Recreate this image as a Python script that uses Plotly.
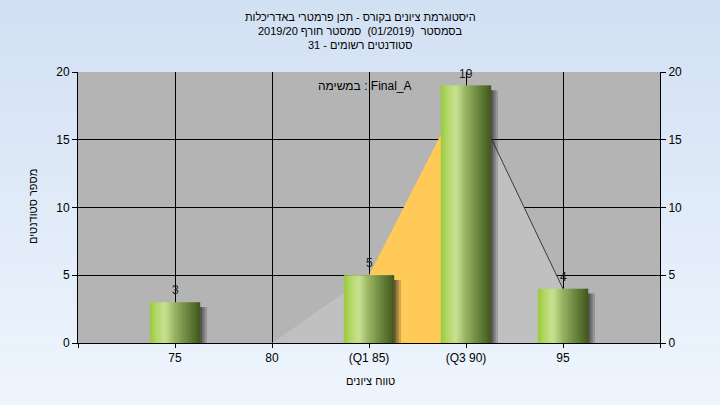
import plotly.graph_objects as go

# ---- data ----
categories = ["75", "80", "(Q1 85)", "(Q3 90)", "95"]
counts = [3, 0, 5, 19, 4]
curve_values = [0, 0, 5, 19, 4]
y_ticks = [0, 5, 10, 15, 20]

title_lines = [
    "היסטוגרמת ציונים בקורס - תכן פרמטרי באדריכלות",
    "בסמסטר  (01/2019)  סמסטר חורף 2019/20",
    "סטודנטים רשומים - 31",
]
x_title = "טווח ציונים"
y_title = "מספר סטודנטים"
note = "במשימה : Final_A"

FONT = "Liberation Sans"
FS = 11
pos = list(range(len(categories)))

fig = go.Figure()

# ---- background area curve (base subplot) ----
fig.add_trace(go.Scatter(x=pos[0:3], y=curve_values[0:3], mode="lines",
                         fill="tozeroy", fillcolor="#c0c0c0",
                         line=dict(width=0, color="#c0c0c0"), hoverinfo="skip",
                         showlegend=False))
fig.add_trace(go.Scatter(x=pos[2:4], y=curve_values[2:4], mode="lines",
                         fill="tozeroy", fillcolor="#ffca58",
                         line=dict(width=0, color="#ffca58"), hoverinfo="skip",
                         showlegend=False))
fig.add_trace(go.Scatter(x=pos[3:5], y=curve_values[3:5], mode="lines",
                         fill="tozeroy", fillcolor="#c0c0c0",
                         line=dict(width=1, color="#3a3a3a"), hoverinfo="skip",
                         showlegend=False))

# ---- bars with gradient (slices), on overlaying axis so they sit above the area ----
BW = 0.52
shadow_specs = [(0.075, "rgba(40,40,40,0.22)"), (0.05, "rgba(40,40,40,0.3)"),
                (0.025, "rgba(40,40,40,0.4)")]
for w, col in shadow_specs:
    fig.add_trace(go.Bar(x=pos, y=[max(v - 0.35, 0) for v in counts], width=w,
                         offset=BW / 2 - 0.005, yaxis="y2",
                         marker=dict(color=col, line=dict(width=0)),
                         hoverinfo="skip", showlegend=False))

stops = [(0.0, (152, 202, 58)), (0.12, (176, 214, 100)), (0.3, (200, 226, 146)),
         (0.5, (150, 178, 96)), (0.75, (104, 132, 62)), (1.0, (66, 88, 28))]

def grad(t):
    for (t0, c0), (t1, c1) in zip(stops[:-1], stops[1:]):
        if t0 <= t <= t1:
            f = (t - t0) / (t1 - t0)
            return "rgb(%d,%d,%d)" % tuple(round(a + (b - a) * f) for a, b in zip(c0, c1))
    return "rgb(%d,%d,%d)" % stops[-1][1]

N = 30
sw = BW / N
for k in range(N):
    fig.add_trace(go.Bar(x=pos, y=counts, width=sw * 1.6 if k < N - 1 else sw,
                         offset=-BW / 2 + k * sw, yaxis="y2",
                         marker=dict(color=grad((k + 0.5) / N), line=dict(width=0)),
                         hoverinfo="skip", showlegend=False))

annotations = []
for i, v in enumerate(counts):
    if v > 0:
        annotations.append(dict(x=pos[i], y=v, text=str(v), showarrow=False,
                                xanchor="center", yanchor="middle", yshift=12,
                                font=dict(family=FONT, size=FS + 1, color="#1a1a1a")))

L, R, T, B = 78, 60, 72, 62
W, H = 720, 405
pw, ph = W - L - R, H - T - B

def px(xp):
    return (xp - L) / pw

def py(yp):
    return (H - B - yp) / ph

for line, yy in zip(title_lines, [17, 31, 45]):
    annotations.append(dict(xref="paper", yref="paper", x=px(360), y=py(yy),
                            text=line, showarrow=False, xanchor="center", yanchor="middle",
                            font=dict(family=FONT, size=FS, color="#000000")))
annotations.append(dict(xref="paper", yref="paper", x=px(370), y=py(381), text=x_title,
                        showarrow=False, xanchor="center", yanchor="middle",
                        font=dict(family=FONT, size=FS, color="#000000")))
annotations.append(dict(xref="paper", yref="paper", x=px(33), y=py(207), text=y_title,
                        textangle=-90, showarrow=False, xanchor="center", yanchor="middle",
                        font=dict(family=FONT, size=FS, color="#000000")))
annotations.append(dict(xref="paper", yref="paper", x=px(365), y=py(86), text=note,
                        showarrow=False, xanchor="center", yanchor="middle",
                        font=dict(family=FONT, size=FS + 1, color="#000000")))

# background gradient bands
shapes = []
NB = 40
c_top = (210, 224, 243)
c_bot = (238, 245, 253)
for k in range(NB):
    f = k / (NB - 1)
    col = "rgb(%d,%d,%d)" % tuple(round(a + (b - a) * f) for a, b in zip(c_top, c_bot))
    shapes.append(dict(type="rect", xref="paper", yref="paper",
                       x0=px(0), x1=px(W), y0=py(H * (k + 1) / NB + 0.5), y1=py(H * k / NB),
                       fillcolor=col, line=dict(width=0), layer="below"))
shapes.append(dict(type="rect", xref="x domain", yref="y domain", x0=0, x1=1, y0=0, y1=1,
                   fillcolor="#b4b4b4", line=dict(width=0), layer="below"))

fig.update_layout(
    width=W, height=H,
    margin=dict(l=L, r=R, t=T, b=B),
    paper_bgcolor="#e2ecf8",
    plot_bgcolor="#b4b4b4",
    barmode="overlay",
    showlegend=False,
    hovermode=False,
    font=dict(family=FONT, size=FS + 1, color="#000000"),
    xaxis=dict(range=[-1, 5], tickmode="array", tickvals=[-1] + pos + [5],
               ticktext=[""] + categories + [""],
               showgrid=True, gridcolor="#000000", gridwidth=1,
               showline=True, linecolor="#000000", linewidth=1,
               ticks="outside", ticklen=4, tickcolor="#000000", zeroline=False,
               fixedrange=True),
    yaxis=dict(range=[0, 20], tickvals=y_ticks, showgrid=True, gridcolor="#000000",
               gridwidth=1, showline=True, linecolor="#000000", linewidth=1,
               ticks="outside", ticklen=5, tickcolor="#000000", zeroline=False,
               fixedrange=True),
    yaxis2=dict(range=[0, 20], tickvals=y_ticks, overlaying="y", side="right",
                showgrid=False, showline=True, linecolor="#000000", linewidth=1,
                ticks="outside", ticklen=5, tickcolor="#000000", zeroline=False,
                fixedrange=True),
    annotations=annotations,
    shapes=shapes,
)

fig.write_html("out.html", config={"displayModeBar": False},
               post_script="document.body.style.margin='0';")
